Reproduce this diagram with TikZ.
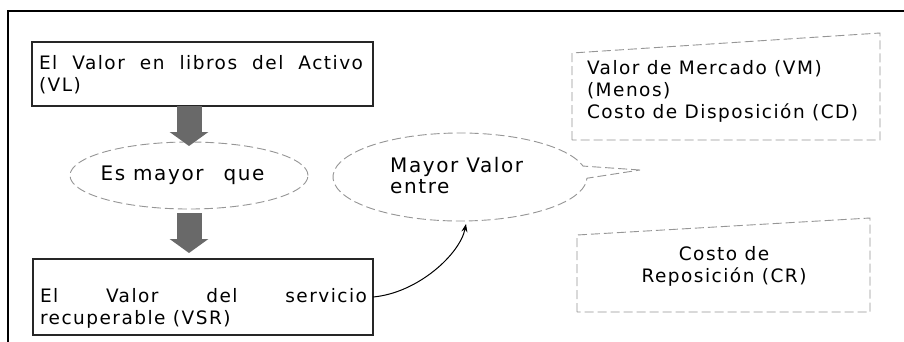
\documentclass[tikz,border=0pt]{standalone}
\usepackage{fontspec}
\setmainfont{DejaVu Sans}
\newfontfamily\vf[LetterSpace=8]{DejaVu Sans}
\usetikzlibrary{shapes.geometric,shapes.callouts,arrows.meta}
\definecolor{arrowgray}{RGB}{105,105,105}
\definecolor{lightline}{RGB}{150,150,150}
\begin{document}
\begin{tikzpicture}[x=1pt,y=-1pt,
  txt/.style={font=\vf\fontsize{18.5}{22}\selectfont, inner sep=0pt, outer sep=0pt},
  solidbox/.style={draw=black!85, inner sep=0pt, outer sep=0pt, anchor=north west},
  softline/.style={draw=lightline, line width=0.9pt, dash pattern=on 9pt off 4pt},
  blockarrow/.style={draw=arrowgray, line width=25pt, -{Triangle[width=38pt,length=14pt]}},
  link/.style={draw=black, line width=1pt, -{Stealth[length=8pt,width=6pt]}}]
\useasboundingbox (0,0) rectangle (904,341);
\fill[white] (0,0) rectangle (904,341);
\draw[line width=1.6pt] (910,11) -- (8,11) -- (8,350);

% left column
\node[solidbox, line width=1.1pt, minimum width=341pt, minimum height=64pt] (vl) at (32,42) {};
\node[txt, anchor=west, align=left] (vlt) at (39,75) {\makebox[324pt][s]{El Valor en libros del Activo}\\(VL)};

\node[ellipse, softline, minimum width=238pt, minimum height=67pt, inner sep=0pt, outer sep=0pt] (es) at (189,175.5) {};
\node[font=\vf\fontsize{20}{24}\selectfont, inner sep=0pt] (est) at (182.5,175.5) {Es mayor\hspace{20pt}que};

\node[solidbox, line width=1.6pt, minimum width=340pt, minimum height=76pt] (vsr) at (33,259) {};
\node[txt, anchor=west, align=left] (vsrt) at (40,308) {\makebox[327pt][s]{El Valor del servicio}\\recuperable (VSR)};

\draw[blockarrow, shorten >=-4pt] (vl.south -| es.north) -- (es.north);
\draw[blockarrow, shorten <=4pt, shorten >=6pt] (es.south) -- (es.south |- vsr.north);

% callout
\node[ellipse callout, softline, minimum width=254pt, minimum height=88pt, inner sep=0pt, outer sep=0pt,
      callout absolute pointer={(640,170)}, callout pointer arc=16] (mv) at (460,177) {};
\node[font=\vf\fontsize{20}{21}\selectfont, inner sep=0pt, anchor=west, align=left] (mvt) at (390,176) {Mayor Valor\\entre};

\draw[link] (vsr.east) .. controls +(45,-4) and +(-6,30) .. ([xshift=6pt,yshift=-3pt]mv.south);

% right boxes
\draw[softline] (572,140) -- (572,53) -- (880,33) -- (880,140) -- cycle;
\node[txt, anchor=west, align=left] (vm) at (587,91) {Valor de Mercado (VM)\\(Menos)\\Costo de Disposición (CD)};

\draw[softline] (577,312) -- (577,235) -- (870,218) -- (870,312) -- cycle;
\node[txt, align=center] (cr) at (724,266) {Costo de\\Reposición (CR)};
\end{tikzpicture}
\end{document}
